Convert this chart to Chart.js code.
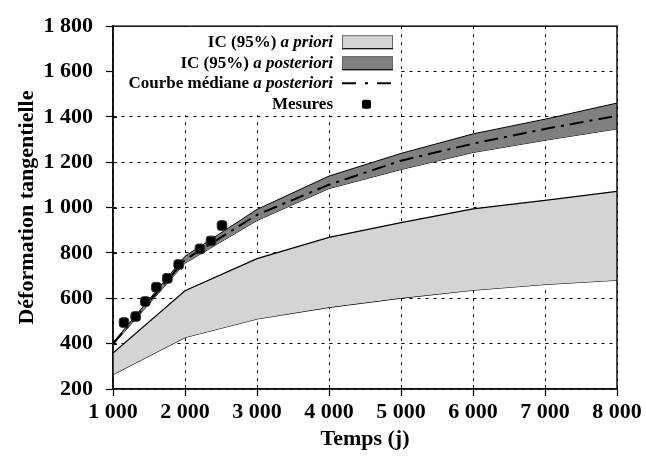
<!DOCTYPE html>
<html><head><meta charset="utf-8">
<script src="https://cdn.jsdelivr.net/npm/chart.js@4/dist/chart.umd.min.js"></script>
<style>html,body{margin:0;padding:0;background:#fff;}#wrap{width:646px;height:461px;}</style>
</head><body><div id="wrap"><canvas id="c" width="646" height="461"></canvas></div>
<script>
// ---- data ----
const times = [1000, 2000, 3000, 4000, 5000, 6000, 7000, 8000];
const prioriLow  = [264, 427, 509, 560, 601, 636, 661, 680];
const prioriHigh = [359, 633, 775, 869, 934, 994, 1032, 1072];
const postLow    = [396, 755, 943, 1084, 1168, 1243, 1297, 1347];
const postHigh   = [404, 785, 992, 1139, 1239, 1325, 1390, 1461];
const postMed    = [400, 770, 968, 1101, 1207, 1282, 1347, 1405];
const mesuresT   = [1153, 1315, 1449, 1602, 1755, 1912, 2208, 2361, 2514];
const mesuresV   = [493, 520, 586, 649, 688, 749, 818, 853, 921];
const xTicks = [1000, 2000, 3000, 4000, 5000, 6000, 7000, 8000];
const yTicks = [200, 400, 600, 800, 1000, 1200, 1400, 1600, 1800];
const legendLabels = [
  ["IC (95%) ", "a priori"],
  ["IC (95%) ", "a posteriori"],
  ["Courbe médiane ", "a posteriori"],
  ["Mesures", ""]
];
const xTitle = "Temps (j)";
const yTitle = "Déformation tangentielle";

const FONT = "'Liberation Serif','Times New Roman',serif";
const fmt = v => { const s = String(Math.round(v)); return s.length > 3 ? s.slice(0, -3) + ' ' + s.slice(-3) : s; };
const pts = (xs, ys) => xs.map((x, i) => ({x: x, y: ys[i]}));

const framePlugin = {
  id: 'frame',
  afterDraw(chart) {
    const {ctx, chartArea: a} = chart;
    ctx.save();
    ctx.strokeStyle = '#111';
    ctx.lineWidth = 1.5;
    ctx.strokeRect(a.left, a.top, a.right - a.left, a.bottom - a.top);
    // short inner tick marks
    ctx.lineWidth = 1;
    const xs = chart.scales.x, ys = chart.scales.y;
    ctx.beginPath();
    xs.ticks.forEach(t => { const p = Math.round(xs.getPixelForValue(t.value)) + 0.5; ctx.moveTo(p, a.bottom); ctx.lineTo(p, a.bottom - 4); });
    ys.ticks.forEach(t => { const p = Math.round(ys.getPixelForValue(t.value)) + 0.5; ctx.moveTo(a.left, p); ctx.lineTo(a.left + 4, p); });
    ctx.stroke();
    ctx.restore();
  }
};

const legendPlugin = {
  id: 'customLegend',
  afterDraw(chart) {
    const {ctx, chartArea: a} = chart;
    ctx.save();
    ctx.fillStyle = '#fff';
    ctx.fillRect(a.left + 1, a.top + 1, 286, 88);
    const rightX = a.left + 220;
    const boxL = a.left + 229, boxR = a.left + 280;
    const rowY = [a.top + 16, a.top + 37, a.top + 57, a.top + 78];
    ctx.textBaseline = 'middle';
    ctx.fillStyle = '#000';
    legendLabels.forEach((lab, i) => {
      const y = rowY[i];
      let x = rightX;
      if (lab[1]) {
        ctx.font = "italic bold 17px " + FONT;
        const w = ctx.measureText(lab[1]).width;
        ctx.textAlign = 'left';
        ctx.fillText(lab[1], x - w, y);
        x -= w;
      }
      ctx.font = "bold 17px " + FONT;
      const w0 = ctx.measureText(lab[0]).width;
      ctx.textAlign = 'left';
      ctx.fillText(lab[0], x - w0, y);
    });
    const drawBox = (y, fill) => {
      ctx.fillStyle = fill;
      ctx.fillRect(boxL, y - 7, boxR - boxL, 14);
      ctx.strokeStyle = '#666';
      ctx.lineWidth = 1;
      ctx.strokeRect(boxL + 0.5, y - 6.5, boxR - boxL - 1, 13);
      ctx.strokeStyle = '#000';
      ctx.beginPath();
      ctx.moveTo(boxL, y + 6.5); ctx.lineTo(boxR, y + 6.5);
      ctx.stroke();
    };
    drawBox(rowY[0], '#d4d4d4');
    drawBox(rowY[1], '#808080');
    ctx.strokeStyle = '#000';
    ctx.lineWidth = 2;
    ctx.setLineDash([14, 9, 3, 9]);
    ctx.beginPath();
    ctx.moveTo(boxL, rowY[2]); ctx.lineTo(boxR, rowY[2]);
    ctx.stroke();
    ctx.setLineDash([]);
    ctx.fillStyle = '#000';
    const mx = (boxL + boxR) / 2 - 1, my = rowY[3];
    ctx.beginPath();
    if (ctx.roundRect) ctx.roundRect(mx - 4.5, my - 4.5, 9, 9, 2); else ctx.rect(mx - 4.5, my - 4.5, 9, 9);
    ctx.fill();
    ctx.restore();
  }
};

const lineBase = {pointRadius: 0, tension: 0, borderColor: '#000', borderWidth: 1.2};

new Chart(document.getElementById('c'), {
  type: 'line',
  data: {
    datasets: [
      Object.assign({}, lineBase, {label: 'priori bas', data: pts(times, prioriLow), fill: false, order: 10}),
      Object.assign({}, lineBase, {label: 'priori haut', data: pts(times, prioriHigh), fill: '-1', backgroundColor: '#d4d4d4', order: 9}),
      Object.assign({}, lineBase, {label: 'post bas', data: pts(times, postLow), fill: false, borderWidth: 1, order: 8}),
      Object.assign({}, lineBase, {label: 'post haut', data: pts(times, postHigh), fill: '-1', borderWidth: 1, backgroundColor: '#808080', order: 7}),
      Object.assign({}, lineBase, {label: 'médiane', data: pts(times, postMed), fill: false, borderWidth: 2, borderDash: [14, 6, 3, 6], order: 6}),
      {label: 'Mesures', data: pts(mesuresT, mesuresV), showLine: false, pointStyle: 'rectRounded',
       pointRadius: 5.6, pointHoverRadius: 5.6, backgroundColor: '#000', borderColor: '#333', borderWidth: 1, order: 0}
    ]
  },
  options: {
    responsive: false,
    animation: false,
    events: [],
    layout: {padding: {left: 0, right: 29, top: 17, bottom: 0}},
    plugins: {legend: {display: false}, tooltip: {enabled: false}},
    scales: {
      x: {
        type: 'linear', min: 1000, max: 8000, z: 1,
        afterBuildTicks: s => { s.ticks = xTicks.map(v => ({value: v})); },
        afterFit: s => { s.height = 72; },
        ticks: {callback: v => fmt(v), color: '#000', padding: 3, maxRotation: 0, autoSkip: false,
                font: {family: FONT, size: 22, weight: 'bold'}},
        grid: {color: '#000', lineWidth: 1, tickLength: 7, tickColor: '#000', tickWidth: 1.2},
        border: {display: true, color: '#111', width: 1.5, dash: [3, 5]},
        title: {display: true, text: xTitle, color: '#000', padding: {top: 0, bottom: 8},
                font: {family: FONT, size: 22, weight: 'bold'}}
      },
      y: {
        type: 'linear', min: 200, max: 1800, z: 1,
        afterBuildTicks: s => { s.ticks = yTicks.map(v => ({value: v})); },
        afterFit: s => { s.width = 113; },
        ticks: {callback: v => fmt(v), color: '#000', padding: 13, autoSkip: false,
                font: {family: FONT, size: 22, weight: 'bold'}},
        grid: {color: '#000', lineWidth: 1, tickLength: 7, tickColor: '#000', tickWidth: 1.2},
        border: {display: true, color: '#111', width: 1.5, dash: [3, 5]},
        title: {display: true, text: yTitle, color: '#000', padding: {top: 14, bottom: 0},
                font: {family: FONT, size: 22, weight: 'bold'}}
      }
    }
  },
  plugins: [framePlugin, legendPlugin]
});
</script>
</body></html>
